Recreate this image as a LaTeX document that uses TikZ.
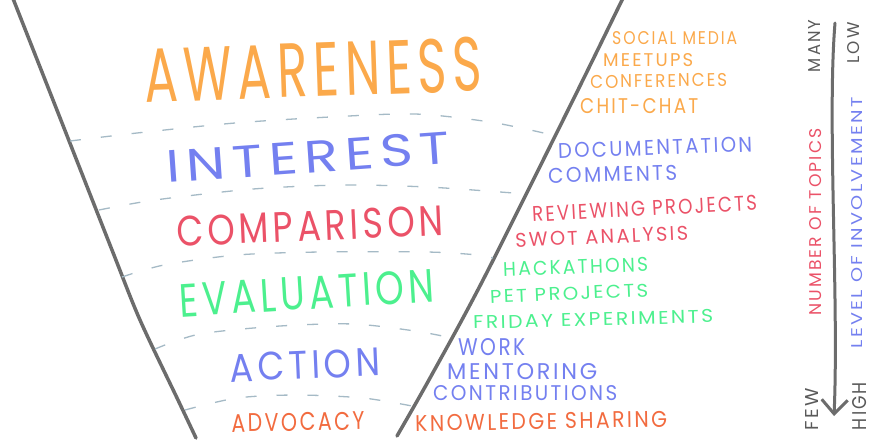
\documentclass[tikz,border=0pt]{standalone}
\usepackage{fontspec}
\setmainfont{Poppins}[LetterSpace=12]
\usepackage{graphicx}
\usetikzlibrary{arrows.meta}
\definecolor{cOr}{HTML}{FBA94B}
\definecolor{cBl}{HTML}{7480F0}
\definecolor{cRd}{HTML}{EB5268}
\definecolor{cGr}{HTML}{4CF08E}
\definecolor{cAd}{HTML}{F26B3F}
\definecolor{cLn}{HTML}{6C6C6C}
\definecolor{cDs}{HTML}{A5BAC6}
\definecolor{cAx}{HTML}{5A5A5A}
\newcommand{\fitbox}[3]{\resizebox{#1pt}{#2pt}{#3}}
\begin{document}
\begin{tikzpicture}[x=1pt,y=-1pt,
  lbl/.style={inner sep=0pt,anchor=center},
  side/.style={inner sep=0pt,anchor=west},
  funnel/.style={draw=cLn,line width=3.5pt,line cap=round},
  sep/.style={draw=cDs,line width=1.3pt,dash pattern=on 11pt off 20pt},
  axis/.style={draw=cLn,line width=3pt,line cap=round}]
\useasboundingbox (0,0) rectangle (880,440);
\fill[white] (0,0) rectangle (880,440);
% funnel sides
\draw[funnel] plot[smooth] coordinates {(12,-4) (53,100) (112,250) (140,320) (178,400) (196,438)};
\draw[funnel] plot[smooth] coordinates {(624,-4) (573,100) (483,280) (430,378) (397,436)};
% separators
\draw[sep] plot[smooth] coordinates {(70,141) (137,133) (235,123) (330,117) (415,114) (490,122) (548,134)};
\draw[sep] plot[smooth] coordinates {(99,210) (155,200) (253,189) (344,185) (427,187) (500,192) (526,194)};
\draw[sep] plot[smooth] coordinates {(122,277) (164,265) (237,255) (320,252) (427,252) (478,255) (493,258)};
\draw[sep] plot[smooth] coordinates {(155,349) (200,334) (280,326) (353,324) (415,331) (452,338)};
\draw[sep] plot[smooth] coordinates {(185,410) (237,398) (297,395) (363,398) (412,406)};
% stage names
\node[lbl,text=cOr,rotate=2] (awareness) at (313,70) {\fitbox{338}{54}{AWARENESS}};
\node[lbl,text=cBl,rotate=4] (interest) at (308,157) {\fitbox{284}{32}{INTEREST}};
\node[lbl,text=cRd,rotate=2.5] (comparison) at (310,226) {\fitbox{267}{30}{COMPARISON}};
\node[lbl,text=cGr,rotate=3.5] (evaluation) at (307,293) {\fitbox{255}{33}{EVALUATION}};
\node[lbl,text=cBl,rotate=2.5] (action) at (305,365) {\fitbox{150}{28}{ACTION}};
\node[lbl,text=cAd,rotate=1] (advocacy) at (298,422) {\fitbox{133}{18}{ADVOCACY}};
% side lists
\node[side,text=cOr] (social) at (612,38.5) {\fitbox{125}{13}{SOCIAL MEDIA}};
\node[side,text=cOr] (meetups) at (603,60) {\fitbox{90}{13}{MEETUPS}};
\node[side,text=cOr,rotate=1] (conf) at (590,82) {\fitbox{137}{13}{CONFERENCES}};
\node[side,text=cOr] (chit) at (580,106.5) {\fitbox{118}{15}{CHIT-CHAT}};
\node[side,text=cBl,rotate=2] (doc) at (558,151) {\fitbox{194}{15}{DOCUMENTATION}};
\node[side,text=cBl,rotate=1.5] (comments) at (548,176) {\fitbox{129}{15}{COMMENTS}};
\node[side,text=cRd,rotate=3] (review) at (532,214.5) {\fitbox{225}{15}{REVIEWING PROJECTS}};
\node[side,text=cRd,rotate=2.5] (swot) at (515,240.5) {\fitbox{173}{14}{SWOT ANALYSIS}};
\node[side,text=cGr,rotate=2] (hack) at (503,269.5) {\fitbox{145}{14}{HACKATHONS}};
\node[side,text=cGr,rotate=2.5] (pet) at (490,297) {\fitbox{158}{13}{PET PROJECTS}};
\node[side,text=cGr,rotate=1.5] (friday) at (473,322.5) {\fitbox{240}{13}{FRIDAY EXPERIMENTS}};
\node[side,text=cBl] (work) at (458,347.5) {\fitbox{67}{17}{WORK}};
\node[side,text=cBl] (mentor) at (447,371.5) {\fitbox{150}{16}{MENTORING}};
\node[side,text=cBl] (contrib) at (433,393) {\fitbox{184}{15}{CONTRIBUTIONS}};
\node[side,text=cAd,rotate=1] (know) at (415,423.5) {\fitbox{252}{16}{KNOWLEDGE SHARING}};
% axis
\coordinate (axTop) at (835,23);
\coordinate (axBot) at (834,416);
\draw[axis,-{Straight Barb[length=14pt,width=26pt]}] (axTop) .. controls (827,120) and (839,300) .. (axBot);
\node[lbl,text=cAx,rotate=90] (many) at (814,46) {\fitbox{52}{12}{MANY}};
\node[lbl,text=cRd,rotate=90] (topics) at (816,222) {\fitbox{187}{12}{NUMBER OF TOPICS}};
\node[lbl,text=cAx,rotate=90] (few) at (812,409) {\fitbox{42}{13}{FEW}};
\node[lbl,text=cAx,rotate=90] (low) at (854,43) {\fitbox{41}{12}{LOW}};
\node[lbl,text=cBl,rotate=90] (involve) at (857,223) {\fitbox{251}{11}{LEVEL OF INVOLVEMENT}};
\node[lbl,text=cAx,rotate=90] (high) at (860,406) {\fitbox{48}{14}{HIGH}};
\end{tikzpicture}
\end{document}
